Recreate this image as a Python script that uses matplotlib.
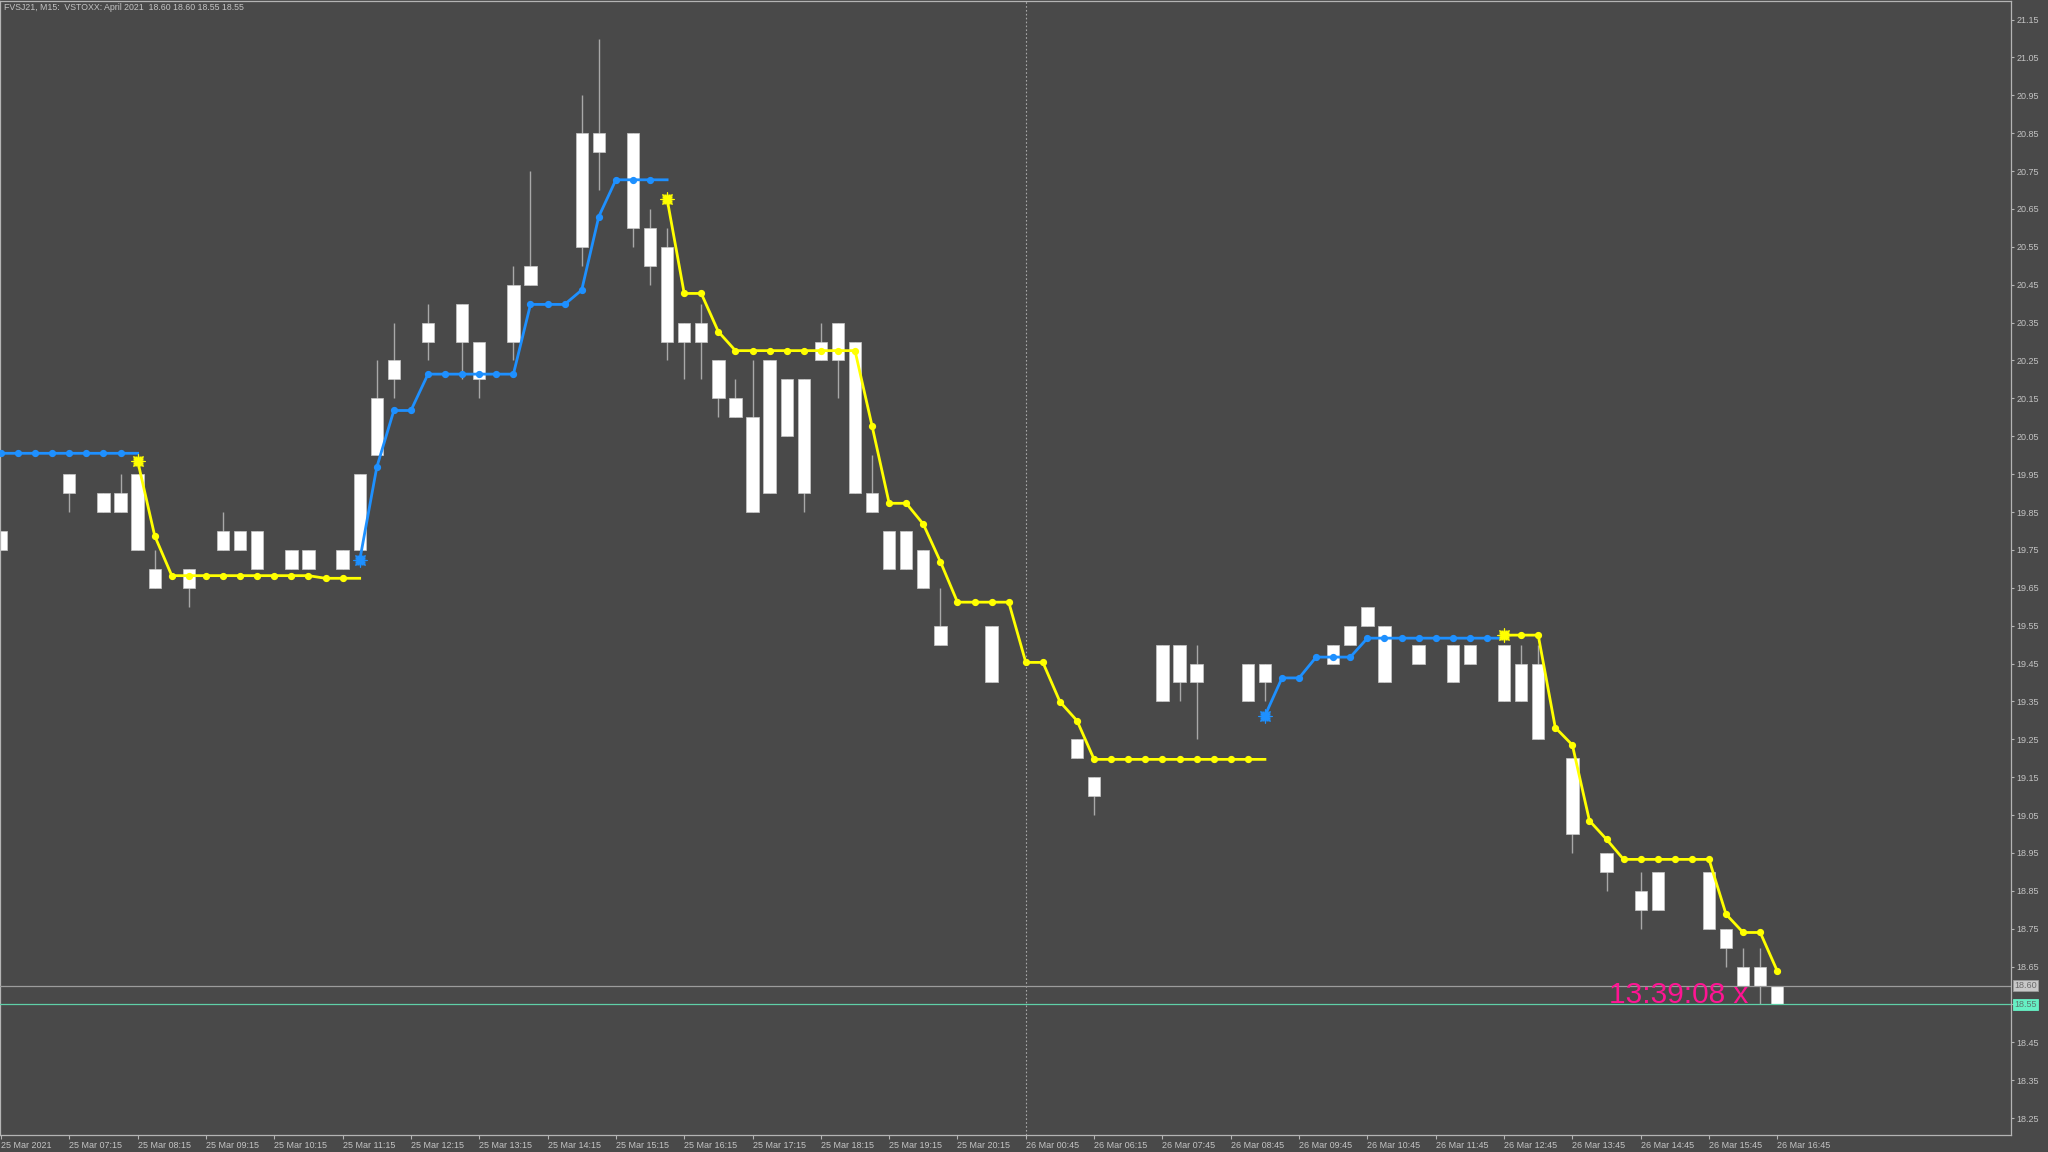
import numpy as np
import matplotlib
matplotlib.use('Agg')
import matplotlib.pyplot as plt
from matplotlib.transforms import blended_transform_factory

nan = np.nan

# --- data ------------------------------------------------------------------
title = "FVSJ21, M15:  VSTOXX: April 2021  18.60 18.60 18.55 18.55"

candle_idx = [0, 4, 6, 7, 8, 9, 11, 13, 14, 15, 17, 18, 20, 21, 22, 23, 25, 27, 28, 30,
              31, 34, 35, 37, 38, 39, 40, 41, 42, 43, 44, 45, 46, 47, 48, 49, 50, 51, 52, 53,
              54, 55, 58, 63, 64, 68, 69, 70, 73, 74, 78, 79, 80, 81, 83, 85, 86, 88, 89, 90,
              92, 94, 96, 97, 100, 101, 102, 103, 104]
opens = [19.80, 19.90, 19.90, 19.85, 19.95, 19.70, 19.65, 19.75, 19.80, 19.80, 19.70, 19.75, 19.70, 19.75, 20.00, 20.20, 20.30, 20.30, 20.30, 20.30,
         20.45, 20.55, 20.85, 20.85, 20.60, 20.55, 20.30, 20.35, 20.25, 20.15, 20.10, 19.90, 20.20, 20.20, 20.25, 20.35, 20.30, 19.90, 19.80, 19.70,
         19.75, 19.55, 19.55, 19.25, 19.15, 19.35, 19.50, 19.40, 19.35, 19.45, 19.45, 19.50, 19.55, 19.55, 19.45, 19.50, 19.45, 19.50, 19.35, 19.45,
         19.20, 18.95, 18.85, 18.80, 18.90, 18.75, 18.60, 18.65, 18.60]
highs = [19.80, 19.95, 19.90, 19.95, 19.95, 19.75, 19.70, 19.85, 19.80, 19.80, 19.75, 19.75, 19.75, 19.95, 20.25, 20.35, 20.40, 20.40, 20.30, 20.50,
         20.75, 20.95, 21.10, 20.85, 20.65, 20.60, 20.35, 20.40, 20.25, 20.20, 20.25, 20.25, 20.20, 20.20, 20.35, 20.35, 20.30, 20.00, 19.80, 19.80,
         19.75, 19.65, 19.55, 19.25, 19.15, 19.50, 19.50, 19.50, 19.45, 19.45, 19.50, 19.55, 19.60, 19.55, 19.50, 19.50, 19.50, 19.50, 19.50, 19.50,
         19.20, 18.95, 18.90, 18.90, 18.90, 18.75, 18.70, 18.70, 18.60]
lows = [19.75, 19.85, 19.85, 19.85, 19.75, 19.65, 19.60, 19.75, 19.75, 19.70, 19.70, 19.70, 19.70, 19.75, 20.00, 20.15, 20.25, 20.20, 20.15, 20.25,
        20.45, 20.50, 20.70, 20.55, 20.45, 20.25, 20.20, 20.20, 20.10, 20.10, 19.85, 19.90, 20.05, 19.85, 20.25, 20.15, 19.90, 19.85, 19.70, 19.70,
        19.65, 19.50, 19.40, 19.20, 19.05, 19.35, 19.35, 19.25, 19.35, 19.35, 19.45, 19.50, 19.55, 19.40, 19.45, 19.40, 19.45, 19.35, 19.35, 19.25,
        18.95, 18.85, 18.75, 18.80, 18.75, 18.65, 18.60, 18.55, 18.55]
closes = [19.75, 19.95, 19.85, 19.90, 19.75, 19.65, 19.70, 19.80, 19.75, 19.70, 19.75, 19.70, 19.75, 19.95, 20.15, 20.25, 20.35, 20.40, 20.20, 20.45,
          20.50, 20.85, 20.80, 20.60, 20.50, 20.30, 20.35, 20.30, 20.15, 20.10, 19.85, 20.25, 20.05, 19.90, 20.30, 20.25, 19.90, 19.85, 19.70, 19.80,
          19.65, 19.50, 19.40, 19.20, 19.10, 19.50, 19.40, 19.45, 19.45, 19.40, 19.50, 19.55, 19.60, 19.40, 19.50, 19.40, 19.50, 19.35, 19.45, 19.25,
          19.00, 18.90, 18.80, 18.90, 18.75, 18.70, 18.65, 18.60, 18.55]

# trend line values per bar (blue = up, yellow = down), nan = not drawn
up_line = [20.005, 20.005, 20.005, 20.005, 20.005, 20.005, 20.005, 20.005, 20.005,
           nan, nan, nan, nan, nan, nan, nan, nan, nan, nan, nan, nan,
           19.722, 19.968, 20.118, 20.118, 20.214, 20.214, 20.214, 20.214, 20.214, 20.214,
           20.398, 20.398, 20.398, 20.436, 20.630, 20.727, 20.727, 20.727, 20.727,
           nan, nan, nan, nan, nan, nan, nan, nan, nan, nan, nan, nan, nan, nan, nan, nan, nan,
           nan, nan, nan, nan, nan, nan, nan, nan, nan, nan, nan, nan, nan, nan, nan, nan, nan,
           19.312, 19.412, 19.412, 19.467, 19.467, 19.467,
           19.517, 19.517, 19.517, 19.517, 19.517, 19.517, 19.517, 19.517, 19.517,
           nan, nan, nan, nan, nan, nan, nan, nan, nan, nan, nan, nan, nan, nan, nan, nan]
down_line = [nan, nan, nan, nan, nan, nan, nan, nan,
             19.985, 19.787, 19.682, 19.682, 19.682, 19.682, 19.682, 19.682, 19.682, 19.682, 19.682,
             19.675, 19.675, 19.675,
             nan, nan, nan, nan, nan, nan, nan, nan, nan, nan, nan, nan, nan, nan, nan, nan, nan,
             20.676, 20.427, 20.427, 20.326, 20.276, 20.276, 20.276, 20.276, 20.276, 20.276, 20.276, 20.276,
             20.077, 19.873, 19.873, 19.818, 19.719, 19.612, 19.612, 19.612, 19.612,
             19.453, 19.453, 19.349, 19.299,
             19.197, 19.197, 19.197, 19.197, 19.197, 19.197, 19.197, 19.197, 19.197, 19.197, 19.197,
             nan, nan, nan, nan, nan, nan, nan, nan, nan, nan, nan, nan, nan,
             19.525, 19.525, 19.525, 19.281, 19.235, 19.035, 18.986,
             18.933, 18.933, 18.933, 18.933, 18.933, 18.933,
             18.788, 18.740, 18.740, 18.638]

time_tick_bars = [0, 4, 8, 12, 16, 20, 24, 28, 32, 36, 40, 44, 48, 52, 56,
                  60, 64, 68, 72, 76, 80, 84, 88, 92, 96, 100, 104]
time_labels = ["25 Mar 2021", "25 Mar 07:15", "25 Mar 08:15", "25 Mar 09:15", "25 Mar 10:15",
               "25 Mar 11:15", "25 Mar 12:15", "25 Mar 13:15", "25 Mar 14:15", "25 Mar 15:15",
               "25 Mar 16:15", "25 Mar 17:15", "25 Mar 18:15", "25 Mar 19:15", "25 Mar 20:15",
               "26 Mar 00:45", "26 Mar 06:15", "26 Mar 07:45", "26 Mar 08:45", "26 Mar 09:45",
               "26 Mar 10:45", "26 Mar 11:45", "26 Mar 12:45", "26 Mar 13:45", "26 Mar 14:45",
               "26 Mar 15:45", "26 Mar 16:45"]
price_ticks = [round(18.25 + 0.1 * k, 2) for k in range(30)]
day_separator = 60
ask_price = 18.60
bid_price = 18.55
timer_text = "13:39:08 x"

# --- style ---------------------------------------------------------------
BG = '#494949'
FG = '#c4c4c4'
FRAME = '#b4b4b4'
BLUE = '#1e90ff'
YELLOW = '#ffff00'
plt.rcParams['font.family'] = ['Liberation Sans', 'DejaVu Sans']


def draw_trend(ax, vals, color):
    n = len(vals)
    xs = np.arange(n)
    ys = np.array(vals, dtype=float)
    ax.plot(xs, ys, color=color, lw=2.0, zorder=4, solid_joinstyle='round')
    dot_x, dot_y, star_x, star_y = [], [], [], []
    for i in range(n):
        if np.isnan(ys[i]):
            continue
        if i > 0 and np.isnan(ys[i - 1]):
            star_x.append(i)
            star_y.append(ys[i])
        elif i == n - 1 or not np.isnan(ys[i + 1]):
            dot_x.append(i)
            dot_y.append(ys[i])
    ax.plot(dot_x, dot_y, 'o', color=color, ms=4.2, zorder=5)
    # sunburst-like arrow at the start of each segment
    ax.plot(star_x, star_y, marker=(12, 1, 0), ls='none', color=color, ms=8, zorder=6)
    ax.plot(star_x, star_y, marker=(8, 2, 0), ls='none', color=color, mew=0.8, ms=10, zorder=6)


def main():
    fig = plt.figure(figsize=(20.48, 11.52), dpi=100, facecolor=BG)
    ax = fig.add_axes([0, 1 - 1135 / 1152, 2011 / 2048, 1134 / 1152])
    ax.set_facecolor(BG)

    # candles: wicks then bodies
    ax.vlines(candle_idx, lows, highs, color='#a8a8a8', lw=1.0, zorder=1)
    o = np.array(opens)
    c = np.array(closes)
    ax.bar(candle_idx, np.abs(c - o), bottom=np.minimum(o, c), width=0.72,
           color='white', edgecolor='#c8c8c8', linewidth=0.5, zorder=2)

    draw_trend(ax, up_line, BLUE)
    draw_trend(ax, down_line, YELLOW)

    # period separator and price lines
    ax.axvline(day_separator, color='#a8a8a8', ls=(0, (1.5, 2)), lw=0.8, zorder=0)
    ax.axhline(ask_price, color='#9c9c9c', lw=0.9, zorder=3)
    ax.axhline(bid_price, color='#5fd0a8', lw=0.9, zorder=3)

    ax.set_xlim(-1 / 17.08, 2010 / 17.08)
    ax.set_ylim(18.2054, 21.199)

    # axes / ticks
    for sp in ax.spines.values():
        sp.set_color(FRAME)
        sp.set_linewidth(0.9)
    ax.yaxis.tick_right()
    ax.set_yticks(price_ticks)
    ax.set_yticklabels(['%.2f' % p for p in price_ticks])
    ax.set_xticks(time_tick_bars)
    ax.set_xticklabels(time_labels)
    ax.tick_params(axis='y', colors=FRAME, labelcolor=FG, labelsize=6.5, length=2.5, width=0.8, pad=1.5)
    ax.tick_params(axis='x', colors=FRAME, labelcolor=FG, labelsize=6.5, length=3, width=0.8, pad=1.0)
    for lab in ax.get_xticklabels():
        lab.set_ha('left')

    # price labels on the right axis
    tr = blended_transform_factory(ax.transAxes, ax.transData)
    ax.text(1.0015, ask_price, '%.2f' % ask_price, transform=tr, fontsize=6.5, color='#6a6a6a',
            va='center', ha='left', clip_on=False,
            bbox=dict(boxstyle='square,pad=0.15', fc='#c8c8c8', ec='#9a9a9a', lw=0.6))
    ax.text(1.0015, bid_price, '%.2f' % bid_price, transform=tr, fontsize=6.5, color='#5a7a70',
            va='center', ha='left', clip_on=False,
            bbox=dict(boxstyle='square,pad=0.15', fc='#66f0c4', ec='#66f0c4', lw=0.6))

    # countdown text near the last bar
    ax.text(102.3, 18.553, timer_text, color='#ff1493', fontsize=21.5, ha='right',
            va='baseline', zorder=10)

    fig.text(4 / 2048, 1 - 7 / 1152, title, color=FG, fontsize=6.3, ha='left', va='center')

    fig.savefig('out.png', dpi=100, facecolor=BG)


if __name__ == '__main__':
    main()
